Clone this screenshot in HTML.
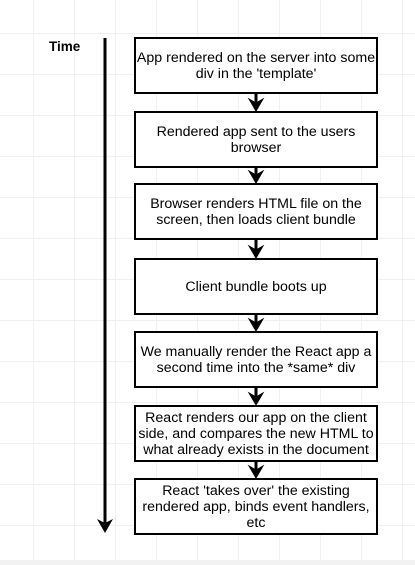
<!DOCTYPE html>
<html><head><style>
html,body{margin:0;padding:0}
body{width:415px;height:565px;position:relative;overflow:hidden;font-family:"Liberation Sans",Arial,sans-serif;
background-color:#fff;
background-image:linear-gradient(#f0f0f0 1px,transparent 1px),linear-gradient(90deg,#f0f0f0 1px,transparent 1px);
background-size:41px 41px;background-position:-8px -8px;}
.b{position:absolute;left:134px;border:2px solid #000;background:#fff;display:flex;align-items:center;justify-content:center;text-align:center;font-size:14.2px;line-height:16px;color:#000;box-sizing:border-box;width:244px;height:57px;padding:0 1px;white-space:nowrap}
.t{position:absolute;left:49px;top:39px;font-weight:bold;font-size:13.5px}
.foot{position:absolute;left:0;top:560px;width:415px;height:5px;background:#f2f2f2}
</style></head><body>
<div class="t">Time</div>
<svg width="415" height="565" style="position:absolute;left:0;top:0">
<line x1="105" y1="38" x2="105" y2="526" stroke="#000" stroke-width="3"/>
<polygon points="97,519 105,533 113,519 105,523" fill="#000"/>
<g fill="#000" stroke="#000">
<line x1="256" y1="93" x2="256" y2="106" stroke-width="3"/><polygon points="249,99 256,111 263,99 256,103"/>
<line x1="256" y1="167" x2="256" y2="178" stroke-width="3"/><polygon points="249,171 256,183 263,171 256,175"/>
<line x1="256" y1="240" x2="256" y2="253" stroke-width="3"/><polygon points="249,246 256,258 263,246 256,250"/>
<line x1="256" y1="314" x2="256" y2="326" stroke-width="3"/><polygon points="249,319 256,331 263,319 256,323"/>
<line x1="256" y1="387" x2="256" y2="400" stroke-width="3"/><polygon points="249,393 256,405 263,393 256,397"/>
<line x1="256" y1="461" x2="256" y2="473" stroke-width="3"/><polygon points="249,466 256,478 263,466 256,470"/>
</g></svg>
<div class="b" style="top:37px">App rendered on the server into some<br>div in the 'template'</div>
<div class="b" style="top:111px">Rendered app sent to the users<br>browser</div>
<div class="b" style="top:183px">Browser renders HTML file on the<br>screen, then loads client bundle</div>
<div class="b" style="top:258px">Client bundle boots up</div>
<div class="b" style="top:331px">We manually render the React app a<br>second time into the *same* div</div>
<div class="b" style="top:405px">React renders our app on the client<br>side, and compares the new HTML to<br>what already exists in the document</div>
<div class="b" style="top:478px">React 'takes over' the existing<br>rendered app, binds event handlers,<br>etc</div>
<div class="foot"></div>
</body></html>
